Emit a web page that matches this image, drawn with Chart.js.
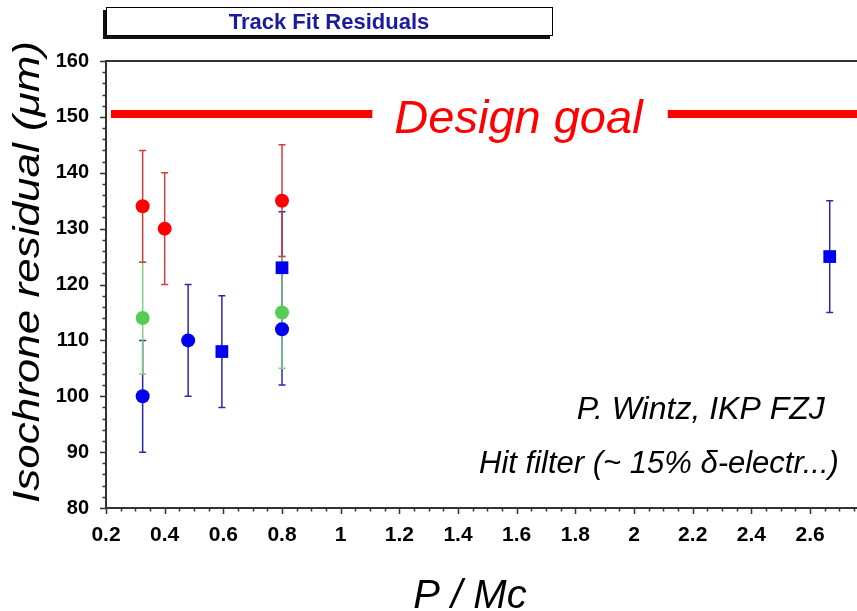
<!DOCTYPE html>
<html>
<head>
    <meta charset="utf-8">
    <title>Track Fit Residuals</title>
    <script src="https://cdn.jsdelivr.net/npm/chart.js@4.4.0/dist/chart.umd.min.js"></script>
    <style>
        body {
            margin: 0;
            background-color: #ffffff;
        }
        .chart-container {
            position: relative;
            width: 857px;
            height: 611px;
        }
    </style>
</head>
<body>
    <div class="chart-container">
        <canvas id="residualChart"></canvas>
    </div>

    <script>
        // 测量点: P/Mc 和 残差 (um), 误差为 +/-
        const redX = [0.325, 0.4, 0.8];
        const redY = [134, 130, 135];
        const redErr = [10, 10, 10];

        const greenX = [0.325, 0.8];
        const greenY = [114, 115];
        const greenErr = [10, 10];

        const blueX = [0.325, 0.48, 0.8];
        const blueY = [100, 110, 112];
        const blueErr = [10, 10, 10];

        const squareX = [0.595, 0.8, 2.667];
        const squareY = [108, 123, 125];
        const squareErr = [10, 10, 10];

        // 设计目标线, 中间留给文字
        const goalY = 150.5;
        const goalLeftX = [0.217, 1.108];
        const goalRightX = [2.115, 2.8];

        const xTicks = [0.2, 0.4, 0.6, 0.8, 1, 1.2, 1.4, 1.6, 1.8, 2, 2.2, 2.4, 2.6];
        const yTicks = [80, 90, 100, 110, 120, 130, 140, 150, 160];
        const xMinorStep = 0.05;
        const yMinorStep = 2;

        const FONT = '"Liberation Sans", Arial, Helvetica, sans-serif';
        const TICK_FONT = '"Liberation Sans Narrow", "Arial Narrow", "Liberation Sans", Arial, sans-serif';

        function points(xs, ys) {
            return xs.map((x, i) => ({ x: x, y: ys[i] }));
        }

        // 误差棒, 画在点的下面
        const errorBars = {
            id: 'errorBars',
            beforeDatasetsDraw(chart) {
                const ctx = chart.ctx;
                const xs = chart.scales.x, ys = chart.scales.y;
                const drawOrder = ['squares', 'blue', 'green', 'red'];
                ctx.save();
                drawOrder.forEach(key => {
                    const ds = chart.data.datasets.find(d => d.key === key);
                    ctx.strokeStyle = ds.barColor;
                    ctx.lineWidth = 1.5;
                    ds.data.forEach((p, i) => {
                        const px = xs.getPixelForValue(p.x);
                        const top = ys.getPixelForValue(p.y + ds.errors[i]);
                        const bot = ys.getPixelForValue(p.y - ds.errors[i]);
                        ctx.beginPath();
                        ctx.moveTo(px, top); ctx.lineTo(px, bot);
                        ctx.moveTo(px - 3.5, top); ctx.lineTo(px + 3.5, top);
                        ctx.moveTo(px - 3.5, bot); ctx.lineTo(px + 3.5, bot);
                        ctx.stroke();
                    });
                });
                ctx.restore();
            }
        };

        // 小刻度, 顶框, 标题框, 文字
        const decorations = {
            id: 'decorations',
            afterDraw(chart) {
                const ctx = chart.ctx;
                const xs = chart.scales.x, ys = chart.scales.y;
                const area = chart.chartArea;
                ctx.save();

                // 顶边
                ctx.strokeStyle = '#333';
                ctx.lineWidth = 2;
                ctx.beginPath();
                ctx.moveTo(area.left, area.top);
                ctx.lineTo(area.right, area.top);
                ctx.stroke();

                // 刻度
                ctx.lineWidth = 1.5;
                ctx.beginPath();
                for (let v = xs.min; v <= xs.max + 1e-9; v += xMinorStep) {
                    const major = Math.abs(v / 0.2 - Math.round(v / 0.2)) < 1e-6;
                    const px = Math.round(xs.getPixelForValue(v)) + 0.5;
                    ctx.moveTo(px, area.bottom);
                    ctx.lineTo(px, area.bottom + (major ? 6 : 3.5));
                }
                for (let v = ys.min; v <= ys.max + 1e-9; v += yMinorStep) {
                    const major = Math.abs(v % 10) < 1e-6;
                    const py = Math.round(ys.getPixelForValue(v)) + 0.5;
                    ctx.moveTo(area.left, py);
                    ctx.lineTo(area.left - (major ? 6 : 3.5), py);
                }
                ctx.stroke();

                // 标题框 (带阴影)
                ctx.fillStyle = '#111';
                ctx.fillRect(103, 10, 447, 29);
                ctx.fillStyle = '#fff';
                ctx.fillRect(106, 7, 447, 29);
                ctx.strokeStyle = '#000';
                ctx.lineWidth = 1;
                ctx.strokeRect(106.5, 7.5, 446, 28);
                ctx.fillStyle = '#1b1b9e';
                ctx.font = 'bold 22px ' + FONT;
                ctx.textAlign = 'center';
                ctx.textBaseline = 'middle';
                ctx.fillText('Track Fit Residuals', 329, 23);

                // Design goal
                ctx.fillStyle = '#ff0000';
                ctx.font = 'italic 47px ' + FONT;
                ctx.textBaseline = 'alphabetic';
                ctx.fillText('Design goal', xs.getPixelForValue(1.606), ys.getPixelForValue(147.2));

                // 注释
                ctx.fillStyle = '#000';
                ctx.textAlign = 'right';
                ctx.font = 'italic 32px ' + FONT;
                ctx.fillText('P. Wintz, IKP FZJ', xs.getPixelForValue(2.65), ys.getPixelForValue(96));
                ctx.font = 'italic 31px ' + FONT;
                ctx.fillText('Hit filter (~ 15% \u03B4-electr...)', xs.getPixelForValue(2.698), ys.getPixelForValue(86.3));

                // 坐标轴标题
                ctx.textAlign = 'center';
                ctx.font = 'italic 40px ' + FONT;
                ctx.fillText('P / Mc', 470, 608);

                // 纵轴标题 (原图字形偏长, 沿文字方向拉伸)
                ctx.translate(39, 272);
                ctx.rotate(-Math.PI / 2);
                ctx.font = 'italic 36px ' + FONT;
                const yTitle = 'Isochrone residual (\u03BCm)';
                const w = ctx.measureText(yTitle).width;
                ctx.scale(462 / w, 1);
                ctx.fillText(yTitle, 0, 0);

                ctx.restore();
            }
        };

        function createChart() {
            const ctx = document.getElementById('residualChart').getContext('2d');
            new Chart(ctx, {
                type: 'scatter',
                data: {
                    datasets: [{
                        key: 'red',
                        data: points(redX, redY),
                        errors: redErr,
                        barColor: '#d23c3c',
                        backgroundColor: '#ff0000',
                        borderColor: '#ff0000',
                        pointStyle: 'circle',
                        pointRadius: 7,
                        pointBorderWidth: 0
                    }, {
                        key: 'green',
                        data: points(greenX, greenY),
                        errors: greenErr,
                        barColor: '#7fd07f',
                        backgroundColor: '#55cc55',
                        borderColor: '#55cc55',
                        pointStyle: 'circle',
                        pointRadius: 7,
                        pointBorderWidth: 0
                    }, {
                        key: 'blue',
                        data: points(blueX, blueY),
                        errors: blueErr,
                        barColor: '#2a2aa8',
                        backgroundColor: '#0000ee',
                        borderColor: '#0000ee',
                        pointStyle: 'circle',
                        pointRadius: 7,
                        pointBorderWidth: 0
                    }, {
                        key: 'squares',
                        data: points(squareX, squareY),
                        errors: squareErr,
                        barColor: '#2a2aa8',
                        backgroundColor: '#0000ee',
                        borderColor: '#0000ee',
                        pointStyle: 'rect',
                        pointRadius: 9,
                        pointBorderWidth: 0
                    }, {
                        key: 'goalLeft',
                        data: goalLeftX.map(x => ({ x: x, y: goalY })),
                        showLine: true,
                        borderColor: '#ff0000',
                        borderWidth: 8,
                        borderCapStyle: 'butt',
                        pointRadius: 0
                    }, {
                        key: 'goalRight',
                        data: goalRightX.map(x => ({ x: x, y: goalY })),
                        showLine: true,
                        borderColor: '#ff0000',
                        borderWidth: 8,
                        borderCapStyle: 'butt',
                        pointRadius: 0
                    }]
                },
                options: {
                    responsive: true,
                    maintainAspectRatio: false,
                    animation: false,
                    layout: {
                        autoPadding: false,
                        padding: { top: 61, right: 0, bottom: 0, left: 0 }
                    },
                    plugins: {
                        legend: { display: false },
                        tooltip: { enabled: false }
                    },
                    scales: {
                        x: {
                            type: 'linear',
                            min: 0.2,
                            max: 2.76,
                            afterBuildTicks: s => { s.ticks = xTicks.map(v => ({ value: v })); },
                            afterFit: s => {
                                s.height = 103;
                                s.paddingLeft = 0;
                                s.paddingRight = 0;
                            },
                            ticks: {
                                autoSkip: false,
                                maxRotation: 0,
                                padding: 7,
                                color: '#000',
                                font: { family: TICK_FONT, size: 21, weight: 'bold' },
                                callback: v => String(v)
                            },
                            grid: { display: false },
                            border: { display: true, color: '#333', width: 2 }
                        },
                        y: {
                            type: 'linear',
                            min: 80,
                            max: 160,
                            afterBuildTicks: s => { s.ticks = yTicks.map(v => ({ value: v })); },
                            afterFit: s => {
                                s.width = 106;
                                s.paddingTop = 0;
                                s.paddingBottom = 0;
                            },
                            ticks: {
                                padding: 9,
                                color: '#000',
                                font: { family: TICK_FONT, size: 20, weight: 'bold' },
                                callback: v => String(v)
                            },
                            grid: { display: false },
                            border: { display: true, color: '#333', width: 2 }
                        }
                    }
                },
                plugins: [errorBars, decorations]
            });
        }

        createChart();
    </script>
</body>
</html>
